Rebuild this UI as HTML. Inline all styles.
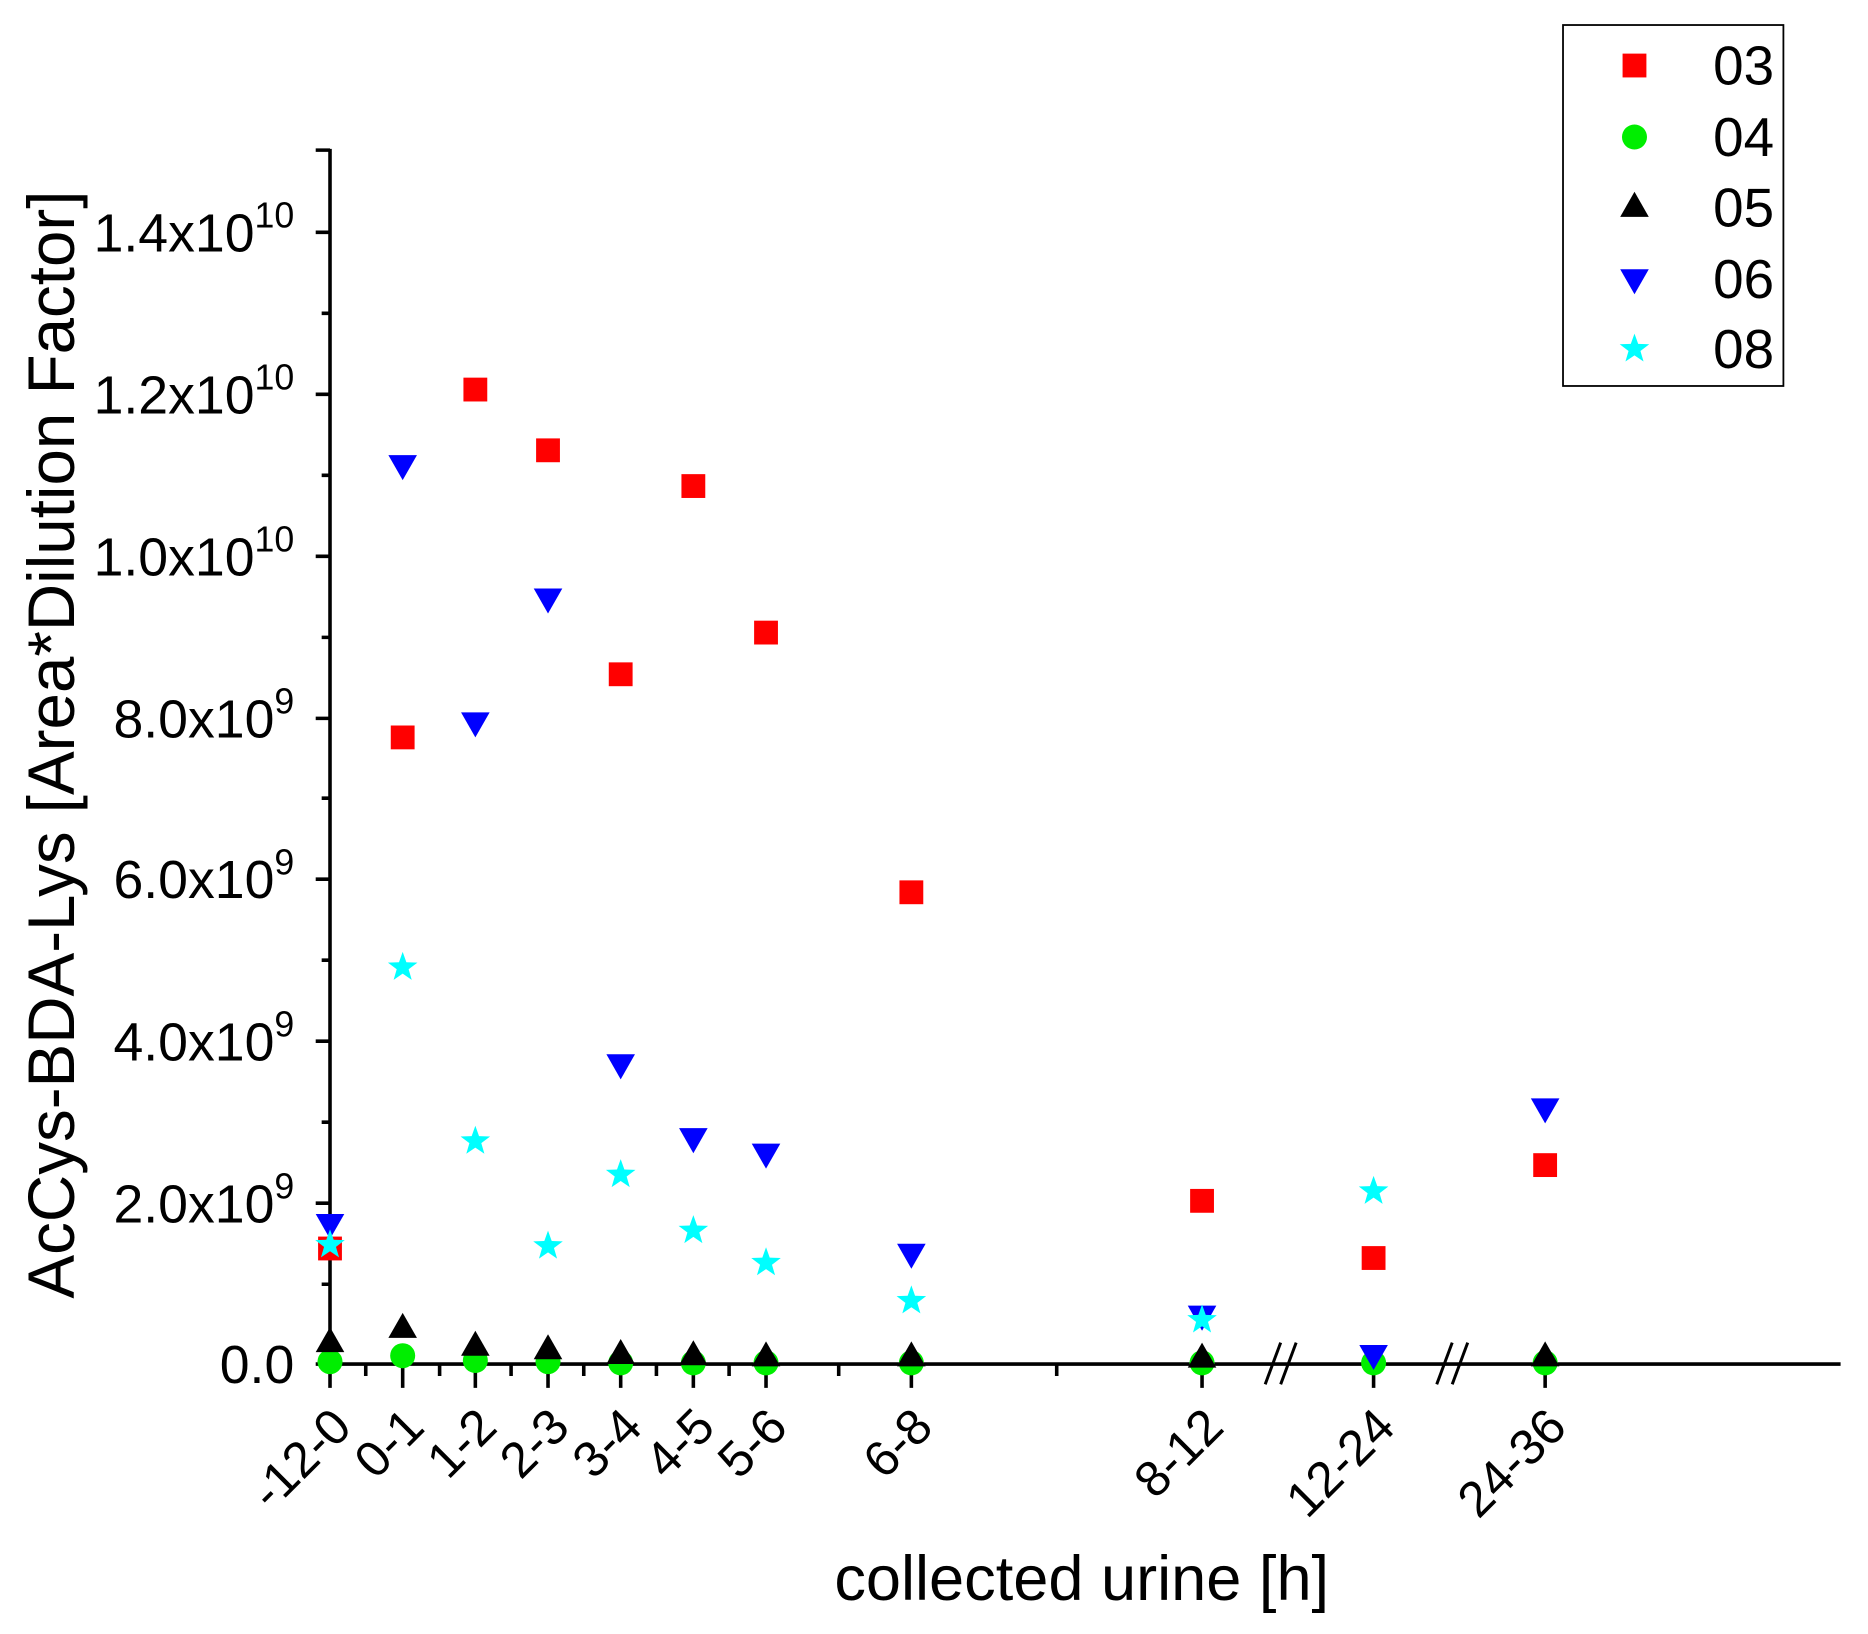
<!DOCTYPE html>
<html><head><meta charset="utf-8"><style>html,body{margin:0;padding:0;background:#fff}svg{display:block}text{font-family:"Liberation Sans",sans-serif;fill:#000}</style></head>
<body>
<svg width="1868" height="1634" viewBox="0 0 1568 1371.6" xmlns="http://www.w3.org/2000/svg">
<defs>
<rect id="sq" x="-10" y="-10" width="20" height="20" fill="#ff0000"/>
<circle id="ci" r="10.5" fill="#00ee00"/>
<polygon id="tu" points="0,-13 12,8 -12,8" fill="#000"/>
<polygon id="td" points="0,13 12,-8 -12,-8" fill="#0000ff"/>
<polygon id="st" points="0,-13 3.1,-4.3 12.4,-4 5,1.6 7.6,10.5 0,5.3 -7.6,10.5 -5,1.6 -12.4,-4 -3.1,-4.3" fill="#00ffff"/>
</defs>
<g stroke="#000" stroke-width="3" fill="none">
<line x1="277" y1="125" x2="277" y2="1147"/>
<line x1="275" y1="1145" x2="1545" y2="1145"/>
<path d="M265 195H277M265 331H277M265 467H277M265 603H277M265 738H277M265 874H277M265 1010H277M265 1145H277M265 126H277"/>
<path d="M270 263H277M270 399H277M270 535H277M270 670H277M270 806H277M270 942H277M270 1078H277"/>
<path d="M277 1145V1165M338 1145V1165M399 1145V1165M460 1145V1165M521 1145V1165M582 1145V1165M643 1145V1165M765 1145V1165M1009 1145V1165M1153 1145V1165M1297 1145V1165"/>
<path d="M307 1145V1155M369 1145V1155M429 1145V1155M490 1145V1155M551 1145V1155M612 1145V1155M704 1145V1155M887 1145V1155"/>
</g>
<g stroke="#000" stroke-width="2.5">
<line x1="1062" y1="1162" x2="1075" y2="1127"/><line x1="1075" y1="1162" x2="1088" y2="1127"/>
<line x1="1206" y1="1162" x2="1219" y2="1127"/><line x1="1219" y1="1162" x2="1232" y2="1127"/>
</g>
<g font-size="45" text-anchor="end">
<text x="247" y="1161">0.0</text>
<text x="247" y="1026">2.0x10<tspan font-size="30" dy="-20">9</tspan></text>
<text x="247" y="890">4.0x10<tspan font-size="30" dy="-20">9</tspan></text>
<text x="247" y="754">6.0x10<tspan font-size="30" dy="-20">9</tspan></text>
<text x="247" y="619">8.0x10<tspan font-size="30" dy="-20">9</tspan></text>
<text x="247" y="483">1.0x10<tspan font-size="30" dy="-20">10</tspan></text>
<text x="247" y="347">1.2x10<tspan font-size="30" dy="-20">10</tspan></text>
<text x="247" y="211">1.4x10<tspan font-size="30" dy="-20">10</tspan></text>
</g>
<text transform="translate(62,625) rotate(-90)" font-size="55" text-anchor="middle">AcCys-BDA-Lys [Area*Dilution Factor]</text>
<text x="908" y="1343" font-size="53" text-anchor="middle">collected urine [h]</text>
<g font-size="42" text-anchor="end">
<text transform="translate(297,1200) rotate(-45)">-12-0</text>
<text transform="translate(358,1200) rotate(-45)">0-1</text>
<text transform="translate(419,1200) rotate(-45)">1-2</text>
<text transform="translate(480,1200) rotate(-45)">2-3</text>
<text transform="translate(541,1200) rotate(-45)">3-4</text>
<text transform="translate(602,1200) rotate(-45)">4-5</text>
<text transform="translate(663,1200) rotate(-45)">5-6</text>
<text transform="translate(785,1200) rotate(-45)">6-8</text>
<text transform="translate(1029,1200) rotate(-45)">8-12</text>
<text transform="translate(1173,1200) rotate(-45)">12-24</text>
<text transform="translate(1317,1200) rotate(-45)">24-36</text>
</g>
<use href="#ci" x="277" y="1143"/><use href="#ci" x="338" y="1138"/><use href="#ci" x="399" y="1142"/><use href="#ci" x="460" y="1143"/><use href="#ci" x="521" y="1144"/><use href="#ci" x="582" y="1144"/><use href="#ci" x="643" y="1144"/><use href="#ci" x="765" y="1144"/><use href="#ci" x="1009" y="1144"/><use href="#ci" x="1153" y="1144"/><use href="#ci" x="1297" y="1144"/>
<use href="#tu" x="277" y="1127"/><use href="#tu" x="338" y="1115"/><use href="#tu" x="399" y="1130"/><use href="#tu" x="460" y="1133"/><use href="#tu" x="521" y="1137"/><use href="#tu" x="582" y="1138"/><use href="#tu" x="643" y="1139"/><use href="#tu" x="765" y="1139"/><use href="#tu" x="1009" y="1140"/><use href="#tu" x="1297" y="1139"/>
<use href="#sq" x="277" y="1048"/><use href="#sq" x="338" y="619"/><use href="#sq" x="399" y="327"/><use href="#sq" x="460" y="378"/><use href="#sq" x="521" y="566"/><use href="#sq" x="582" y="408"/><use href="#sq" x="643" y="531"/><use href="#sq" x="765" y="749"/><use href="#sq" x="1009" y="1008"/><use href="#sq" x="1153" y="1056"/><use href="#sq" x="1297" y="978"/>
<use href="#td" x="277" y="1027"/><use href="#td" x="338" y="390"/><use href="#td" x="399" y="606"/><use href="#td" x="460" y="502"/><use href="#td" x="521" y="893"/><use href="#td" x="582" y="955"/><use href="#td" x="643" y="968"/><use href="#td" x="765" y="1052"/><use href="#td" x="1009" y="1104"/><use href="#td" x="1153" y="1137"/><use href="#td" x="1297" y="930"/>
<use href="#st" x="277" y="1045"/><use href="#st" x="338" y="812"/><use href="#st" x="399" y="958"/><use href="#st" x="460" y="1046"/><use href="#st" x="521" y="986"/><use href="#st" x="582" y="1033"/><use href="#st" x="643" y="1060"/><use href="#st" x="765" y="1092"/><use href="#st" x="1009" y="1108"/><use href="#st" x="1153" y="1000"/>
<rect x="1312" y="21" width="185" height="303" fill="none" stroke="#000" stroke-width="1.5"/>
<use href="#sq" x="1372" y="55"/><use href="#ci" x="1372" y="115"/><use href="#tu" x="1372" y="174"/><use href="#td" x="1372" y="234"/><use href="#st" x="1372" y="293"/>
<g font-size="46">
<text x="1438" y="71">03</text><text x="1438" y="131">04</text><text x="1438" y="190">05</text><text x="1438" y="250">06</text><text x="1438" y="309">08</text>
</g>
</svg>
</body></html>
